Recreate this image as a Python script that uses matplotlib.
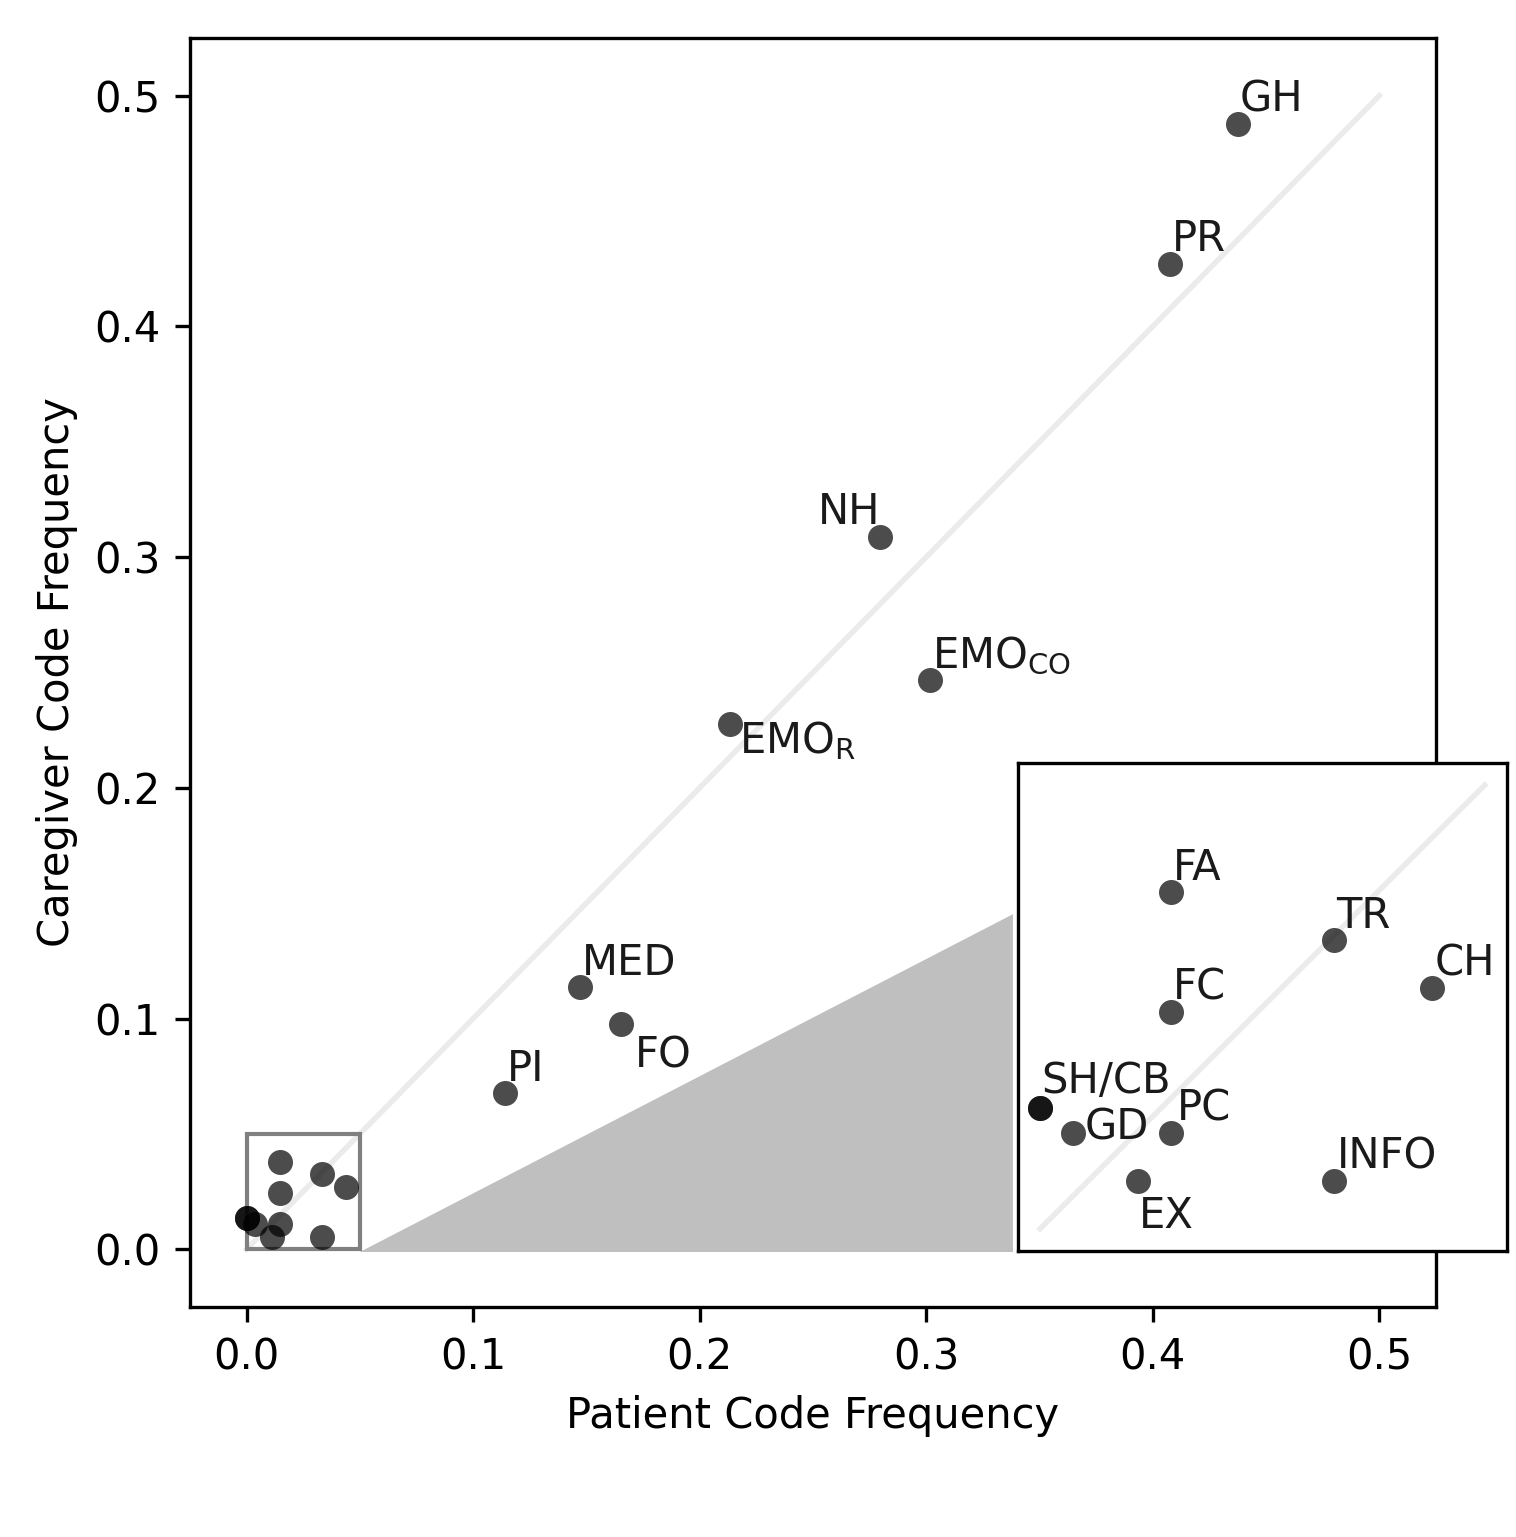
import numpy as np
import matplotlib
matplotlib.use('Agg')
import matplotlib.pyplot as plt
from matplotlib.patches import Rectangle, Polygon

# kody i czestosci (pacjent, opiekun)
codes = ['GH', 'PR', 'NH', 'EMO_CO', 'EMO_R', 'MED', 'FO', 'PI',
         'FA', 'TR', 'CH', 'FC', 'SH', 'CB', 'GD', 'PC', 'EX', 'INFO']
patient = [0.4375, 0.4075, 0.2794, 0.3015, 0.2132, 0.1471, 0.1654, 0.1140,
           0.0147, 0.0331, 0.0441, 0.0147, 0.0, 0.0, 0.0037, 0.0147, 0.0110, 0.0331]
caregiver = [0.4878, 0.4272, 0.3089, 0.2466, 0.2275, 0.1136, 0.0975, 0.0677,
             0.0379, 0.0325, 0.0271, 0.0244, 0.0136, 0.0136, 0.0108, 0.0108, 0.0054, 0.0054]

# etykiety: tekst, ktore punkty
big_labels = ['GH', 'PR', 'NH', 'EMO_CO', 'EMO_R', 'MED', 'FO', 'PI']
small_labels = ['FA', 'TR', 'CH', 'FC', 'SH/CB', 'GD', 'PC', 'EX', 'INFO']

label_text = {'EMO_CO': r'EMO$_{\rm CO}$', 'EMO_R': r'EMO$_{\rm R}$'}
# przesuniecia etykiet w punktach (dx, dy, ha)
offsets = {'NH': (0.3, 3, 'right'), 'EMO_R': (2.2, -6.8, 'left'),
           'FO': (3.2, -10.4, 'left'), 'EX': (0.2, -11.3, 'left'),
           'GD': (2.8, -1.5, 'left'), 'PC': (1.5, 3, 'left'),
           'SH/CB': (0.3, 3.6, 'left')}

zoom_lim = 0.05

plt.rcParams['font.size'] = 10

fig = plt.figure(figsize=(1516 / 300, 1537 / 300), dpi=300)
ax = fig.add_axes([0.1253, 0.1497, 0.8219, 0.8256])

x = np.array(patient)
y = np.array(caregiver)

ax.plot([0, 0.5], [0, 0.5], color='0.92', lw=1.3, zorder=0)
ax.scatter(x, y, s=36, color='k', alpha=0.7, linewidths=0, zorder=3)

ax.set_xlim(-0.025, 0.525)
ax.set_ylim(-0.025, 0.525)
ax.set_xticks([0.0, 0.1, 0.2, 0.3, 0.4, 0.5])
ax.set_yticks([0.0, 0.1, 0.2, 0.3, 0.4, 0.5])
ax.set_xlabel('Patient Code Frequency')
ax.set_ylabel('Caregiver Code Frequency')


def point_of(lab):
    key = lab.split('/')[0]
    i = codes.index(key)
    return patient[i], caregiver[i]


def put_label(a, lab):
    px, py = point_of(lab)
    dx, dy, ha = offsets.get(lab, (0.5, 3, 'left'))
    a.annotate(label_text.get(lab, lab), (px, py), xytext=(dx, dy),
               textcoords='offset points', ha=ha, va='baseline',
               fontsize=10, color='0.1', zorder=4)


for lab in big_labels:
    put_label(ax, lab)

# ramka powiekszenia
ax.add_patch(Rectangle((0, 0), zoom_lim, zoom_lim, fill=False,
                       edgecolor='0.5', lw=1, zorder=2))

# wstawka
ins_pos = [0.6645, 0.0441, 0.3925, 0.3846]
axins = ax.inset_axes(ins_pos)
axins.plot([0, zoom_lim], [0, zoom_lim], color='0.92', lw=1.3, zorder=0)
axins.scatter(x, y, s=36, color='k', alpha=0.7, linewidths=0, zorder=3)
axins.set_xlim(-0.05 * zoom_lim, 1.05 * zoom_lim)
axins.set_ylim(-0.05 * zoom_lim, 1.05 * zoom_lim)
axins.set_xticks([])
axins.set_yticks([])
for lab in small_labels:
    put_label(axins, lab)

# szary klin laczacy ramke ze wstawka
x_r = -0.025 + (ins_pos[0] - 0.004) * 0.55
y_top = -0.025 + (ins_pos[1] + 0.69 * ins_pos[3]) * 0.55
ax.add_patch(Polygon([(zoom_lim, -0.0012), (x_r, y_top), (x_r, -0.0012)],
                     closed=True, facecolor='0.75', edgecolor='none', zorder=1))

fig.savefig('out.png', dpi=300)
